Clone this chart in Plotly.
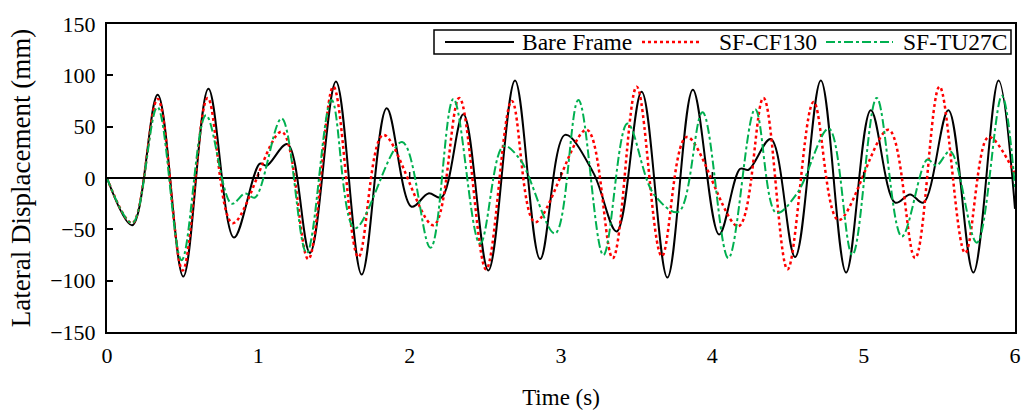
import plotly.graph_objects as go

# Lateral displacement histories (turning points of each response, mm)
bare_t = [0.0, 0.167, 0.335, 0.504, 0.670, 0.839, 1.010, 1.055, 1.192, 1.341, 1.513,
          1.683, 1.848, 2.013, 2.124, 2.210, 2.355, 2.520, 2.696, 2.862, 3.027, 3.214,
          3.368, 3.533, 3.703, 3.871, 4.045, 4.184, 4.240, 4.386, 4.547, 4.717, 4.884,
          5.047, 5.208, 5.307, 5.395, 5.560, 5.725, 5.891, 6.0]
bare_d = [0, -46, 81, -96, 87, -58, 14, 12, 33, -73, 94,
          -94, 68, -28, -15, -19, 62, -90, 95, -79, 42, 5,
          -52, 84, -97, 86, -55, 9, 8, 38, -77, 95, -92,
          66, -24, -16, -24, 66, -92, 95, -30]

cf_t = [0.0, 0.167, 0.335, 0.500, 0.665, 0.830, 1.154, 1.330, 1.496, 1.661, 1.826,
        2.157, 2.328, 2.505, 2.675, 2.829, 3.170, 3.342, 3.500, 3.666, 3.831,
        4.172, 4.338, 4.497, 4.669, 4.834, 5.164, 5.340, 5.501, 5.671, 5.825, 6.0]
cf_d = [0, -44, 77, -90, 78, -44, 45, -79, 89, -77, 42,
        -46, 78, -89, 75, -43, 47, -78, 89, -76, 40,
        -47, 78, -89, 74, -41, 47, -78, 89, -73, 40, 4]

tu_t = [0.0, 0.167, 0.333, 0.493, 0.654, 0.823, 0.912, 0.978, 1.154, 1.319, 1.484,
        1.638, 1.950, 2.138, 2.289, 2.465, 2.619, 2.730, 2.961, 3.115, 3.280, 3.439,
        3.610, 3.776, 3.935, 4.106, 4.283, 4.422, 4.560, 4.770, 4.925, 5.086, 5.252,
        5.421, 5.480, 5.572, 5.748, 5.913, 6.0]
tu_d = [0, -44, 69, -80, 61, -25, -15, -19, 58, -73, 76,
        -49, 35, -68, 77, -64, 31, 18, -54, 76, -75, 53,
        -15, -33, 64, -78, 67, -34, -15, 48, -75, 78, -57,
        18, 12, 26, -63, 80, -10]

series_names = ["Bare Frame", "SF-CF130", "SF-TU27C"]
series_colors = ["black", "#FF0000", "#00B050"]
series_dash = ["solid", "dot", "dashdot"]
series_width = [2, 2.5, 2]

x_ticks = [0, 1, 2, 3, 4, 5, 6]
y_ticks = [-150, -100, -50, 0, 50, 100, 150]

FONT = "Liberation Serif, Times New Roman, serif"
W, H = 1022, 410
ML, MR, MT, MB = 107, 7, 24, 78
PW, PH = W - ML - MR, H - MT - MB


def px_x(p):
    """page pixel column -> paper x"""
    return (p - ML) / PW


def px_y(p):
    """page pixel row -> paper y"""
    return (H - MB - p) / PH


fig = go.Figure()
for t, d, name, c, dash, w in zip([bare_t, cf_t, tu_t], [bare_d, cf_d, tu_d],
                                  series_names, series_colors, series_dash, series_width):
    fig.add_trace(go.Scatter(x=t, y=d, name=name, mode="lines", showlegend=False,
                             line=dict(color=c, width=w, dash=dash,
                                       shape="spline", smoothing=1)))

# small upward ticks on the zero axis line
for t in x_ticks[1:-1]:
    fig.add_shape(type="line", xref="x", yref="y", x0=t, x1=t,
                  ysizemode="pixel", yanchor=0, y0=0, y1=6,
                  line=dict(color="black", width=1.5))

# boxed legend along the top of the plot
fig.add_shape(type="rect", xref="paper", yref="paper",
              x0=px_x(434), x1=px_x(1011), y0=px_y(54), y1=px_y(30),
              fillcolor="white", line=dict(color="black", width=1.5), layer="above")
leg_mid = px_y(42)
leg_lines = [(445, 514), (642, 701), (826, 893)]
leg_text_x = [520, 717, 901]
for (a, b), tx, name, c, dash, w in zip(leg_lines, leg_text_x, series_names,
                                        series_colors, series_dash, series_width):
    fig.add_shape(type="line", xref="paper", yref="paper",
                  x0=px_x(a), x1=px_x(b), y0=leg_mid, y1=leg_mid,
                  line=dict(color=c, width=w, dash=dash), layer="above")
    fig.add_annotation(xref="paper", yref="paper", x=px_x(tx), y=leg_mid,
                       xanchor="left", yanchor="middle", text=name, showarrow=False,
                       font=dict(size=23.5, family=FONT, color="black"))

fig.update_layout(
    width=W, height=H,
    margin=dict(l=ML, r=MR, t=MT, b=MB),
    paper_bgcolor="white", plot_bgcolor="white",
    font=dict(family=FONT, size=22, color="black"),
    showlegend=False,
)
fig.update_xaxes(range=[0, 6], tickvals=x_ticks, ticks="", showgrid=False,
                 showline=True, linecolor="black", linewidth=2, mirror=True,
                 zeroline=False, tickfont=dict(size=22), automargin=False,
                 ticklabelstandoff=3,
                 title=dict(text="Time (s)", font=dict(size=23), standoff=21))
fig.update_yaxes(range=[-150, 150], tickvals=y_ticks, ticks="inside", ticklen=6,
                 tickcolor="black", tickwidth=1.5, showgrid=False,
                 showline=True, linecolor="black", linewidth=2, mirror=True,
                 zeroline=True, zerolinecolor="black", zerolinewidth=2,
                 tickfont=dict(size=22), automargin=False, ticklabelstandoff=5,
                 title=dict(text="Lateral Displacement (mm)", font=dict(size=27), standoff=12))

fig.write_html("out.html")
